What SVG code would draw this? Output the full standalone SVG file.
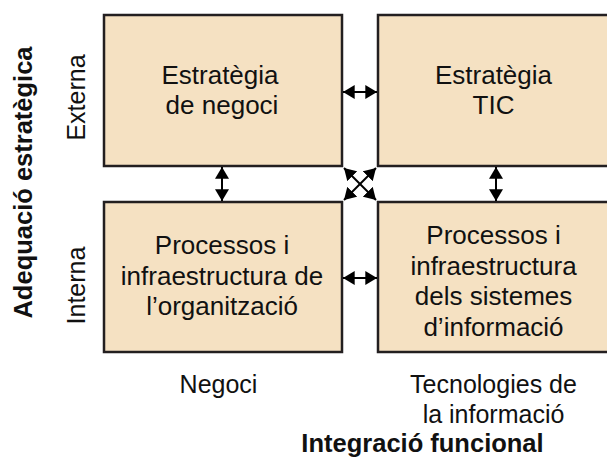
<svg xmlns="http://www.w3.org/2000/svg" width="607" height="463" viewBox="0 0 607 463">
  <style>
    .box { fill: #f5e1c2; stroke: #231f20; stroke-width: 2.5; }
    .txt { font-family: "Liberation Sans", Arial, sans-serif; font-size: 26px; fill: #111; text-anchor: middle; }
    .lbl { font-family: "Liberation Sans", Arial, sans-serif; font-size: 25px; fill: #111; text-anchor: middle; }
    .ttl { font-family: "Liberation Sans", Arial, sans-serif; font-size: 25.5px; font-weight: bold; fill: #111; text-anchor: middle; }
    .link { stroke: #000; stroke-width: 2; fill: none; marker-start: url(#head); marker-end: url(#head); }
  </style>
  <defs>
    <marker id="head" viewBox="0 0 10 12" refX="10" refY="6" markerWidth="12" markerHeight="14" markerUnits="userSpaceOnUse" orient="auto-start-reverse">
      <path d="M0,0 L10,6 L0,12 z" fill="#000"/>
    </marker>
  </defs>
  <rect width="607" height="463" fill="#fff"/>

  <!-- axis labels -->
  <g id="axis-labels">
    <text class="ttl" transform="translate(32,182.5) rotate(-90)">Adequació estratègica</text>
    <text class="lbl" transform="translate(85,97.5) rotate(-90)">Externa</text>
    <text class="lbl" transform="translate(85,285.5) rotate(-90)">Interna</text>
    <text class="lbl" x="218.5" y="393">Negoci</text>
    <text class="lbl" x="493.5" y="393">Tecnologies de</text>
    <text class="lbl" x="493.5" y="423">la informació</text>
    <text class="ttl" x="422.5" y="452">Integració funcional</text>
  </g>

  <!-- quadrants -->
  <g id="business-strategy">
    <rect class="box" x="104" y="15" width="238" height="151"/>
    <text class="txt" x="220" y="84">Estratègia</text>
    <text class="txt" x="222" y="114">de negoci</text>
  </g>
  <g id="ict-strategy">
    <rect class="box" x="378" y="15" width="240" height="151"/>
    <text class="txt" x="493.5" y="84">Estratègia</text>
    <text class="txt" x="493.5" y="114">TIC</text>
  </g>
  <g id="org-processes">
    <rect class="box" x="104" y="202" width="238" height="150"/>
    <text class="txt" x="222" y="254">Processos i</text>
    <text class="txt" x="222" y="285">infraestructura de</text>
    <text class="txt" x="222" y="315">l’organització</text>
  </g>
  <g id="is-processes">
    <rect class="box" x="378" y="202" width="240" height="150"/>
    <text class="txt" x="493.5" y="244">Processos i</text>
    <text class="txt" x="493.5" y="275">infraestructura</text>
    <text class="txt" x="493.5" y="305">dels sistemes</text>
    <text class="txt" x="493.5" y="336">d’informació</text>
  </g>

  <!-- alignment connectors -->
  <g id="connectors">
    <line class="link" x1="343" y1="92" x2="377" y2="92"/>
    <line class="link" x1="343" y1="278" x2="377" y2="278"/>
    <line class="link" x1="222" y1="167" x2="222" y2="201"/>
    <line class="link" x1="496" y1="167" x2="496" y2="201"/>
    <line class="link" x1="344" y1="168" x2="376" y2="200"/>
    <line class="link" x1="376" y1="168" x2="344" y2="200"/>
  </g>
</svg>
